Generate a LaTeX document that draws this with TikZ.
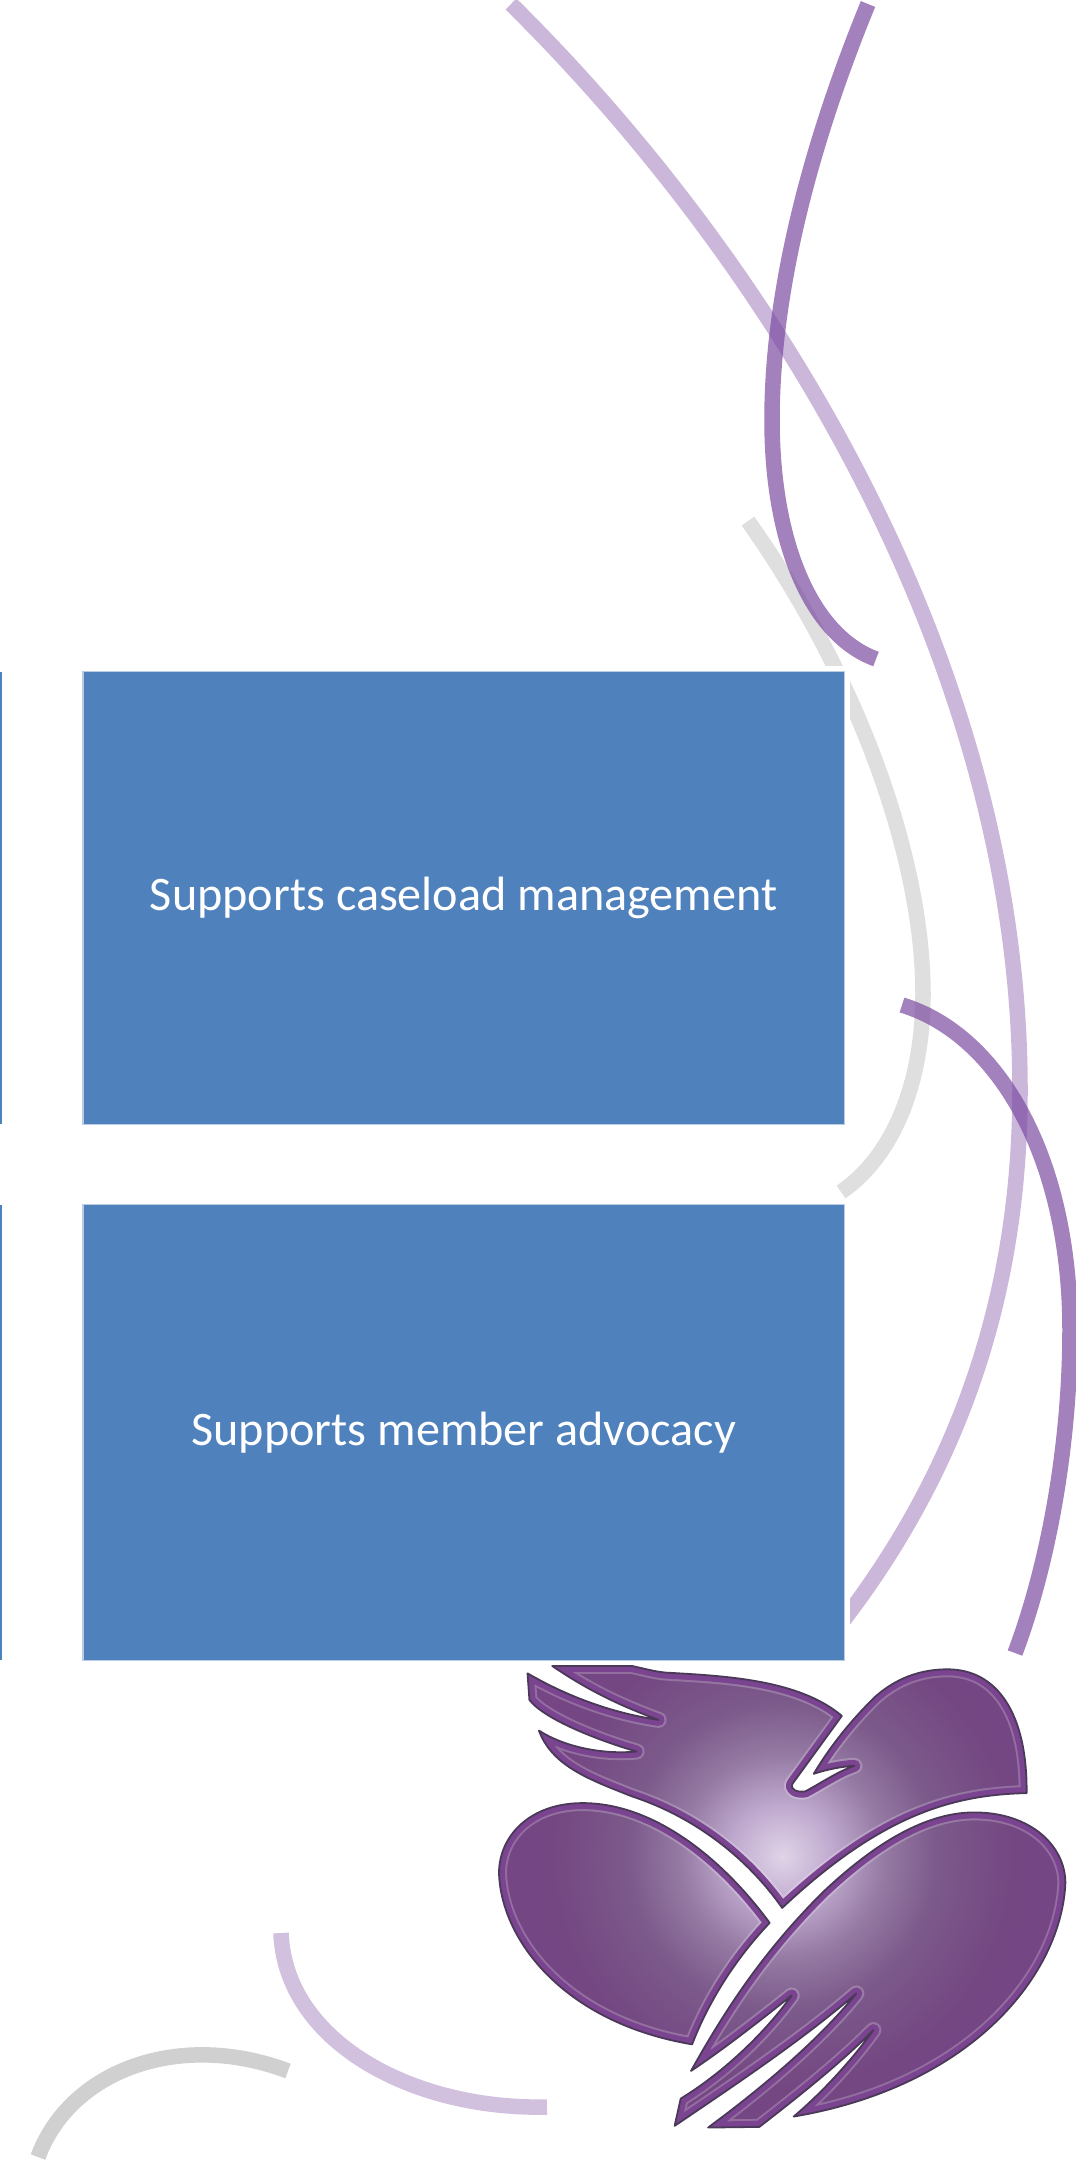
\documentclass[tikz,border=0pt]{standalone}
\usepackage{fontspec}
\setmainfont{Carlito}

\definecolor{boxblue}{HTML}{4F81BD}
\definecolor{boxedge}{HTML}{B9CDE5}
\definecolor{arcpurple}{HTML}{7B4BA1}
\definecolor{arcgrey}{HTML}{808080}
\definecolor{floorgrey}{HTML}{D0D0D0}
\definecolor{glowa}{HTML}{E0D4E8}
\definecolor{glowb}{HTML}{BFA9CE}
\definecolor{glowc}{HTML}{957AA3}
\definecolor{glowd}{HTML}{7C5A8B}
\definecolor{glowe}{HTML}{744782}
\definecolor{glowf}{HTML}{764288}
\definecolor{glowg}{HTML}{7F4290}
\definecolor{logorim}{HTML}{7A4490}
\definecolor{logoline}{HTML}{4A3A58}

\pgfdeclareradialshading{logoglow}{\pgfpointorigin}{color(0bp)=(glowa); color(4bp)=(glowb); color(8bp)=(glowc); color(12bp)=(glowd); color(18bp)=(glowe); color(28bp)=(glowf); color(50bp)=(glowg)}

\tikzset{
  bluebox/.style={fill=boxblue, draw=boxedge, line width=0.3pt, minimum width=7.61cm, inner sep=0pt, text=white, font=\fontsize{13.7}{16}\selectfont, preaction={draw=white, line width=3.4pt}},
  edgebox/.style={fill=boxblue, minimum width=0.02cm, inner sep=0pt},
  arcdark/.style={draw=arcpurple, line width=0.155cm, opacity=0.7},
  arclight/.style={draw=arcpurple, line width=0.155cm, opacity=0.4},
  arcgreyish/.style={draw=arcgrey, line width=0.155cm, opacity=0.25},
  arcfloor/.style={draw=floorgrey, line width=0.155cm}
}

\newcommand{\logopiece}[1]{
  \begin{scope}
    \clip #1;
    \shade[shading=logoglow] (795,650) ellipse (843 and 960);
    \draw[white, opacity=0.22, line width=0.16cm, line join=round] #1;
    \draw[logorim, line width=0.12cm, line join=round] #1;
  \end{scope}
  \draw[logoline, line width=0.018cm, line join=round] #1;
}

\begin{document}
\begin{tikzpicture}[x=0.01cm, y=-0.01cm]
  \useasboundingbox (0,0) rectangle (1076,2160);

  \draw[arcgreyish] (748,521) .. controls (860,680) and (923,860) .. (923,994) .. controls (923,1080) and (895,1155) .. (841,1192);
  \draw[arclight] (511,4) .. controls (770,260) and (1020,660) .. (1020,1090) .. controls (1020,1300) and (956,1477) .. (836,1630);
  \draw[arcdark] (868,4) .. controls (800,170) and (772,310) .. (772,420) .. controls (772,540) and (810,635) .. (876,659);
  \draw[arcdark] (902,1005) .. controls (1000,1035) and (1070,1160) .. (1070,1330) .. controls (1070,1440) and (1050,1560) .. (1015,1653);
  \draw[arclight, opacity=0.35] (281,1933) .. controls (285,2040) and (410,2110) .. (547,2107);
  \draw[arcfloor] (38,2157) .. controls (70,2070) and (180,2030) .. (288,2071);

  \node[bluebox, minimum height=4.52cm] (caseload) at (463.7,898) {Supports caseload management};
  \node[bluebox, minimum height=4.55cm] (advocacy) at (463.7,1432.5) {Supports member advocacy};
  \node[edgebox, minimum height=4.52cm] (caseloadedge) at (1,898) {};
  \node[edgebox, minimum height=4.55cm] (advocacyedge) at (1,1432.5) {};

  \begin{scope}[shift={(480,1640)}, x=0.003797cm, y=-0.003333cm]
    \logopiece{(190,78) -- (400,78) .. controls (440,88) and (460,95) .. (490,98) .. controls (650,108) and (840,120) .. (952,228) -- (822,432) .. controls (815,450) and (835,458) .. (855,455) .. controls (890,435) and (940,395) .. (985,378) .. controls (950,380) and (910,390) .. (878,402) .. controls (900,360) and (950,270) .. (1040,170) .. controls (1080,130) and (1140,88) .. (1230,88) .. controls (1360,88) and (1440,220) .. (1438,460) .. controls (1250,465) and (1060,520) .. (795,805) .. controls (700,650) and (560,530) .. (400,470) .. controls (290,420) and (190,380) .. (155,272) .. controls (220,320) and (320,345) .. (412,335) .. controls (320,305) and (170,240) .. (130,180) -- (125,100) .. controls (230,170) and (350,220) .. (470,240) .. controls (350,190) and (270,140) .. (190,78) -- cycle}
    \logopiece{(762,850) .. controls (640,660) and (460,490) .. (270,490) .. controls (130,490) and (50,590) .. (50,700) .. controls (55,900) and (220,1150) .. (558,1215) .. controls (600,1090) and (670,960) .. (762,850) -- cycle}
    \logopiece{(1300,518) .. controls (1450,518) and (1540,620) .. (1540,730) .. controls (1530,1000) and (1300,1340) .. (825,1432) .. controls (900,1360) and (980,1260) .. (1035,1172) .. controls (950,1270) and (840,1370) .. (735,1463) -- (600,1465) .. controls (760,1330) and (900,1190) .. (990,1062) .. controls (850,1200) and (680,1330) .. (512,1460) -- (528,1378) .. controls (640,1300) and (750,1180) .. (820,1068) .. controls (730,1150) and (640,1230) .. (555,1295) .. controls (660,1080) and (760,920) .. (900,760) .. controls (1020,630) and (1160,518) .. (1300,518) -- cycle}
  \end{scope}
\end{tikzpicture}
\end{document}
